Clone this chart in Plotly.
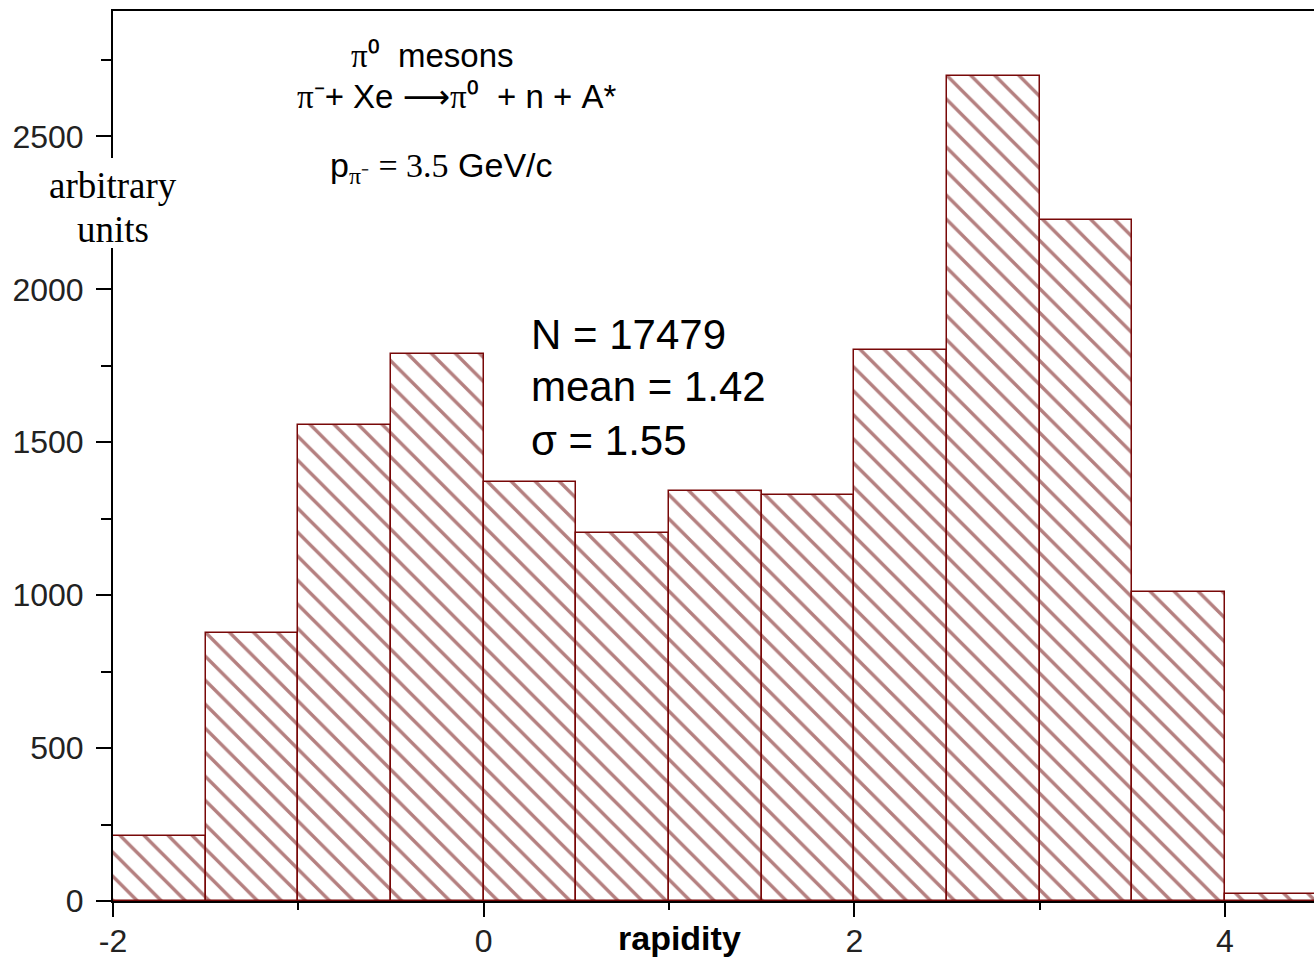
import plotly.graph_objects as go

# ---- data ----
bin_left = [-2.0, -1.5, -1.0, -0.5, 0.0, 0.5, 1.0, 1.5, 2.0, 2.5, 3.0, 3.5, 4.0]
bin_width = 0.5
counts = [212, 877, 1558, 1787, 1371, 1204, 1342, 1327, 1800, 2698, 2228, 1010, 22]

x_ticks = [-2, 0, 2, 4]
x_ticklabels = ["-2", "0", "2", "4"]
y_ticks = [0, 500, 1000, 1500, 2000, 2500]
y_ticklabels = ["0", "500", "1000", "1500", "2000", "2500"]

SERIF = "font-family:'Liberation Serif'"
NB = "\u00a0"
title_lines = [
    f"<span style=\"{SERIF}\">π</span>⁰{NB}{NB}mesons",
    f"<span style=\"{SERIF}\">π</span>⁻+{NB}Xe{NB}"
    f"<span style=\"font-family:'DejaVu Sans'\">⟶</span>"
    f"<span style=\"{SERIF}\">π</span>⁰{NB}{NB}+{NB}n{NB}+{NB}A*",
    f"p<sub><span style=\"{SERIF}\">π⁻</span></sub>{NB}"
    f"<span style=\"{SERIF}\">={NB}3.5</span>{NB}GeV/c",
]
stats_lines = ["N = 17479", "mean = 1.42", "σ = 1.55"]
ylabel_lines = ["arbitrary", "units"]
xlabel = "rapidity"

# ---- layout geometry (pixels) ----
W, H = 1314, 960
ML, MR, MT, MB = 113, 0, 11, 59
PW, PH = W - ML - MR, H - MT - MB


def xp(px):
    return (px - ML) / PW


def yp(py):
    return (H - MB - py) / PH


RED = "#780808"
centers = [b + bin_width / 2 for b in bin_left]

fig = go.Figure()
fig.add_trace(go.Bar(
    x=centers, y=counts, width=bin_width,
    marker=dict(
        color="white",
        line=dict(color=RED, width=1.5),
        pattern=dict(shape="\\", size=17, solidity=0.2, fgcolor="#6a0000",
                     bgcolor="white", fillmode="overlay"),
    ),
    showlegend=False, hoverinfo="skip",
))

tickfont = dict(family="Liberation Sans", size=32, color="#222")

fig.update_xaxes(
    range=[-2, -2 + PW / 185.33],
    tickmode="array", tickvals=x_ticks, ticktext=x_ticklabels,
    ticks="outside", ticklen=14, tickwidth=2, tickcolor="black",
    minor=dict(dtick=1, tick0=0, ticks="outside", ticklen=7, tickwidth=2, tickcolor="black"),
    showline=True, linecolor="black", linewidth=2, mirror=True,
    showgrid=False, zeroline=False, tickfont=tickfont, ticklabelstandoff=-3,
)
fig.update_yaxes(
    range=[0, 2910],
    tickmode="array", tickvals=y_ticks, ticktext=y_ticklabels,
    ticks="outside", ticklen=15, tickwidth=2, tickcolor="black",
    minor=dict(dtick=250, tick0=0, ticks="outside", ticklen=10, tickwidth=2, tickcolor="black"),
    showline=True, linecolor="black", linewidth=2,
    showgrid=False, zeroline=False, tickfont=tickfont, ticklabelstandoff=6,
)

# white gap in the y axis line behind the axis label
fig.add_shape(type="rect", xref="paper", yref="paper", layer="above",
              x0=xp(96), x1=xp(124), y0=yp(248), y1=yp(158),
              line=dict(width=0), fillcolor="white")

ann = []
sans = "Liberation Sans"
serif = "Liberation Serif"
# title block
ann.append(dict(text=title_lines[0], x=xp(432), y=yp(75), yanchor="bottom",
                font=dict(family=sans, size=33, color="black")))
ann.append(dict(text=title_lines[1], x=xp(456), y=yp(76), yanchor="top",
                font=dict(family=sans, size=33, color="black")))
ann.append(dict(text=title_lines[2], x=xp(441), y=yp(168), yanchor="middle",
                font=dict(family=sans, size=34, color="black")))
for a in ann:
    a.update(xref="paper", yref="paper", xanchor="center", showarrow=False, borderpad=0)
# stats block
for txt, cy in zip(stats_lines, [335, 387, 440]):
    ann.append(dict(text=txt, x=xp(530), y=yp(cy), xref="paper", yref="paper",
                    xanchor="left", yanchor="middle", showarrow=False,
                    font=dict(family=sans, size=42, color="black"), borderpad=0))
# y label
ann.append(dict(text=ylabel_lines[0], x=xp(113), y=yp(207), xref="paper", yref="paper",
                xanchor="center", yanchor="bottom", showarrow=False,
                font=dict(family=serif, size=37, color="black"), borderpad=0))
ann.append(dict(text=ylabel_lines[1], x=xp(113), y=yp(207.5), xref="paper", yref="paper",
                xanchor="center", yanchor="top", showarrow=False,
                font=dict(family=serif, size=37, color="black"), borderpad=0))
# x label
ann.append(dict(text="<b>" + xlabel + "</b>", x=xp(679), y=yp(938), xref="paper", yref="paper",
                xanchor="center", yanchor="middle", showarrow=False,
                font=dict(family=sans, size=34, color="black"), borderpad=0))

fig.update_layout(
    width=W, height=H,
    margin=dict(l=ML, r=MR, t=MT, b=MB, pad=0),
    paper_bgcolor="white", plot_bgcolor="white",
    bargap=0, annotations=ann,
)

fig.write_html("out.html")
